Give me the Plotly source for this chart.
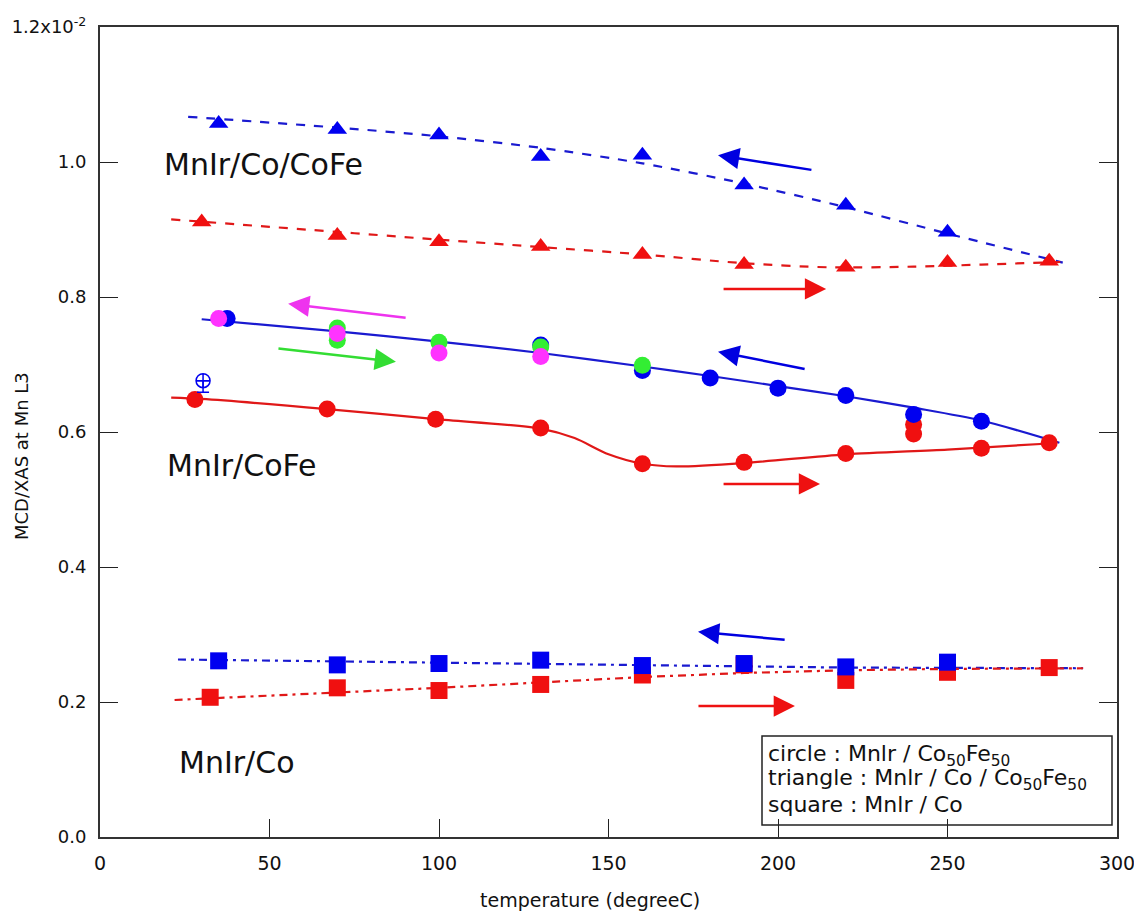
import plotly.graph_objects as go

# ---------------- data (y in units of 1e-2) ----------------
# triangles: MnIr / Co / Co50Fe50
tri_cool_x = [35, 70, 100, 130, 160, 190, 220, 250]
tri_cool_y = [1.057, 1.048, 1.040, 1.008, 1.010, 0.966, 0.936, 0.896]
tri_heat_x = [30, 70, 100, 130, 160, 190, 220, 250, 280]
tri_heat_y = [0.911, 0.891, 0.882, 0.875, 0.863, 0.848, 0.844, 0.851, 0.853]
tri_cool_fit_x = [26, 70, 100, 130, 160, 190, 220, 250, 284]
tri_cool_fit_y = [1.067, 1.051, 1.038, 1.021, 0.998, 0.968, 0.933, 0.894, 0.851]
tri_heat_fit_x = [21, 50, 100, 130, 160, 190, 215, 240, 260, 284]
tri_heat_fit_y = [0.915, 0.904, 0.885, 0.874, 0.863, 0.850, 0.844, 0.845, 0.848, 0.852]

# circles: MnIr / Co50Fe50
circ_cool_x = [37.5, 130, 160, 180, 200, 220, 240, 260]
circ_cool_y = [0.768, 0.729, 0.691, 0.680, 0.665, 0.654, 0.626, 0.616]
circ_green_x = [70, 70, 100, 130, 160]
circ_green_y = [0.754, 0.736, 0.733, 0.726, 0.699]
circ_mag_x = [35, 70, 100, 130]
circ_mag_y = [0.768, 0.746, 0.717, 0.712]
circ_heat_x = [28, 67, 99, 130, 160, 190, 220, 240, 240, 260, 280]
circ_heat_y = [0.648, 0.634, 0.619, 0.606, 0.553, 0.555, 0.568, 0.611, 0.597, 0.576, 0.584]
circ_cool_fit_x = [30, 70, 100, 130, 160, 180, 200, 220, 240, 260, 283]
circ_cool_fit_y = [0.767, 0.749, 0.734, 0.717, 0.697, 0.683, 0.668, 0.653, 0.636, 0.617, 0.584]
circ_heat_fit_x = [21, 30, 67, 99, 130, 140, 150, 160, 170, 190, 220, 250, 280]
circ_heat_fit_y = [0.651, 0.649, 0.634, 0.619, 0.605, 0.591, 0.567, 0.553, 0.549, 0.554, 0.567, 0.574, 0.583]
open_x = [30.4]
open_y = [0.676]
open_err_minus = [0.017]

# squares: MnIr / Co
sq_cool_x = [35, 70, 100, 130, 160, 190, 220, 250]
sq_cool_y = [0.261, 0.255, 0.257, 0.262, 0.254, 0.257, 0.252, 0.259]
sq_heat_x = [32.5, 70, 100, 130, 160, 190, 220, 250, 280]
sq_heat_y = [0.207, 0.221, 0.217, 0.226, 0.240, 0.255, 0.232, 0.244, 0.251]
sq_cool_fit_x = [23, 100, 160, 220, 290]
sq_cool_fit_y = [0.263, 0.258, 0.254, 0.251, 0.250]
sq_heat_fit_x = [22, 70, 100, 130, 160, 190, 220, 250, 290]
sq_heat_fit_y = [0.203, 0.214, 0.221, 0.229, 0.237, 0.243, 0.247, 0.249, 0.250]

# arrows: (tail_x, tail_y, head_x, head_y, color)
arrows = [
    (210.3, 0.988, 182.3, 1.010, "#0000e0"),
    (183.5, 0.812, 214.2, 0.812, "#ee1111"),
    (90.6, 0.769, 55.5, 0.790, "#ee33ee"),
    (52.2, 0.724, 87.3, 0.704, "#33dd33"),
    (208.3, 0.693, 182.3, 0.719, "#0000e0"),
    (183.5, 0.523, 212.4, 0.523, "#ee1111"),
    (202.4, 0.292, 176.4, 0.304, "#0000e0"),
    (176.1, 0.194, 205.0, 0.194, "#ee1111"),
]

labels = [("MnIr/Co/CoFe", 48.1, 0.996), ("MnIr/CoFe", 41.9, 0.550), ("MnIr/Co", 40.4, 0.111)]

legend_lines = [
    "circle : Mnlr / Co<sub>50</sub>Fe<sub>50</sub>",
    "triangle : Mnlr / Co / Co<sub>50</sub>Fe<sub>50</sub>",
    "square : Mnlr / Co",
]

y_ticks = [0.0, 0.2, 0.4, 0.6, 0.8, 1.0, 1.2]
y_ticktext = ["0.0", "0.2", "0.4", "0.6", "0.8", "1.0", "1.2x10<sup>-2</sup>"]
x_ticks = [0, 50, 100, 150, 200, 250, 300]

FONT = "DejaVu Sans, Liberation Sans, Arial, sans-serif"
BLUE = "#0000f0"
BLUE_LINE = "#1a1ad0"
RED = "#f01010"
RED_LINE = "#e01818"
GREEN = "#33ee33"
MAG = "#ff33ff"
DASHDOT = "8px,5px,3px,5px"

fig = go.Figure()

def line(x, y, color, dash, shape="spline"):
    fig.add_trace(go.Scatter(x=x, y=y, mode="lines",
                             line=dict(color=color, width=2.2, dash=dash, shape=shape, smoothing=0.8),
                             showlegend=False, hoverinfo="skip"))

def pts(x, y, color, symbol, size):
    fig.add_trace(go.Scatter(x=x, y=y, mode="markers",
                             marker=dict(color=color, symbol=symbol, size=size, line=dict(width=0)),
                             showlegend=False))

# lines
line(tri_cool_fit_x, tri_cool_fit_y, BLUE_LINE, "dash")
line(tri_heat_fit_x, tri_heat_fit_y, RED_LINE, "dash")
line(circ_cool_fit_x, circ_cool_fit_y, BLUE_LINE, "solid")
line(circ_heat_fit_x, circ_heat_fit_y, RED_LINE, "solid")
line(sq_cool_fit_x, sq_cool_fit_y, BLUE_LINE, DASHDOT, "linear")
line(sq_heat_fit_x, sq_heat_fit_y, RED_LINE, DASHDOT, "linear")

# markers
pts(tri_cool_x, tri_cool_y, BLUE, "triangle-up", 17)
pts(tri_heat_x, tri_heat_y, RED, "triangle-up", 17)
pts(circ_heat_x, circ_heat_y, RED, "circle", 17)
pts(circ_cool_x, circ_cool_y, BLUE, "circle", 17)
pts(circ_green_x, circ_green_y, GREEN, "circle", 17)
pts(circ_mag_x, circ_mag_y, MAG, "circle", 17)
pts(sq_heat_x, sq_heat_y, RED, "square", 17)
pts(sq_cool_x, sq_cool_y, BLUE, "square", 17)
fig.add_trace(go.Scatter(x=open_x, y=open_y, mode="markers",
                         marker=dict(symbol="circle-cross-open", size=14, color=BLUE,
                                     line=dict(width=1.5, color=BLUE)),
                         error_y=dict(type="data", symmetric=False, array=[0] * len(open_x),
                                      arrayminus=open_err_minus, color=BLUE, thickness=1.5, width=6),
                         showlegend=False))

ann = []
for tx, ty, hx, hy, c in arrows:
    ann.append(dict(x=hx, y=hy, ax=tx, ay=ty, xref="x", yref="y", axref="x", ayref="y",
                    showarrow=True, arrowhead=2, arrowsize=1.7, arrowwidth=2.5, arrowcolor=c, text=""))
for t, x, y in labels:
    ann.append(dict(x=x, y=y, xref="x", yref="y", text=t, showarrow=False,
                    font=dict(size=30, color="#111111", family=FONT)))
for i, t in enumerate(legend_lines):
    ann.append(dict(x=(766 - 100) / 1017, y=(837 - (755 + 24.5 * i)) / 810, xref="paper", yref="paper",
                    xanchor="left", yanchor="middle", text=t, showarrow=False,
                    font=dict(size=22, color="#111111", family=FONT)))
ann.append(dict(x=0.482, y=-0.078, xref="paper", yref="paper", xanchor="center", yanchor="middle",
                text="temperature (degreeC)", showarrow=False,
                font=dict(size=19, color="#111111", family=FONT)))
ann.append(dict(x=-0.077, y=0.47, xref="paper", yref="paper", xanchor="center", yanchor="middle",
                text="MCD/XAS at Mn L3", textangle=-90, showarrow=False,
                font=dict(size=18, color="#111111", family=FONT)))

fig.add_shape(type="rect", xref="paper", yref="paper",
              x0=(762 - 100) / 1017, x1=(1112 - 100) / 1017, y0=(837 - 825) / 810, y1=(837 - 736) / 810,
              line=dict(color="#222222", width=1.5), fillcolor="white", layer="below")

fig.update_layout(
    width=1134, height=905,
    margin=dict(l=92, r=25, t=19, b=76, autoexpand=False),
    plot_bgcolor="white", paper_bgcolor="white",
    annotations=ann,
    showlegend=False,
    font=dict(family=FONT, size=18, color="#111111"),
    xaxis=dict(range=[0, 300], tickvals=x_ticks, ticks="inside", ticklen=18, tickwidth=1.2, tickcolor="#222222",
               showline=True, linecolor="#333333", linewidth=2, mirror=True, showgrid=False, zeroline=False,
               tickfont=dict(size=19, family=FONT), ticklabelstandoff=8, automargin=False),
    yaxis=dict(range=[0, 1.2], tickvals=y_ticks, ticktext=y_ticktext, ticks="inside", ticklen=18, tickwidth=1.2,
               tickcolor="#222222", showline=True, linecolor="#333333", linewidth=2, mirror="ticks",
               showgrid=False, zeroline=False, tickfont=dict(size=18, family=FONT), ticklabelstandoff=8,
               automargin=False),
)

fig.write_html("out.html")
